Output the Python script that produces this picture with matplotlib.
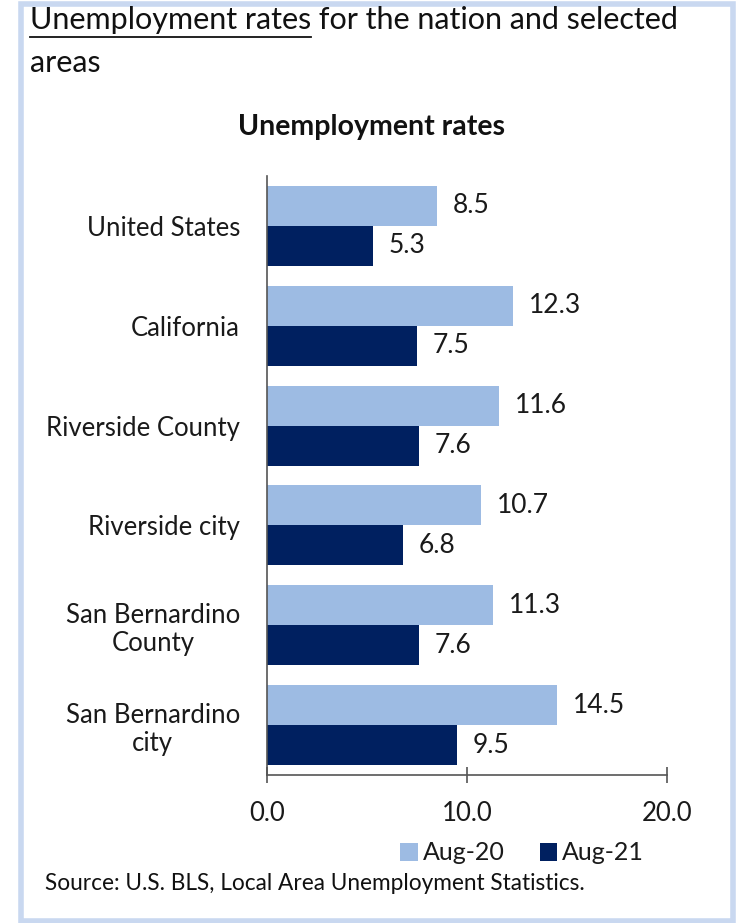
import matplotlib
matplotlib.use("Agg")
import matplotlib.pyplot as plt
import numpy as np
from matplotlib.patches import Rectangle

plt.rcParams['font.family'] = ['Lato', 'DejaVu Sans']

categories = ["United States", "California", "Riverside County", "Riverside city",
              "San Bernardino\nCounty", "San Bernardino\ncity"]
aug20 = [8.5, 12.3, 11.6, 10.7, 11.3, 14.5]
aug21 = [5.3, 7.5, 7.6, 6.8, 7.6, 9.5]
series_names = ["Aug-20", "Aug-21"]
xticks = [0.0, 10.0, 20.0]

c20 = "#9DBBE3"
c21 = "#002060"
txt = "#1a1a1a"
W, H = 738, 923
fig = plt.figure(figsize=(W / 100, H / 100), dpi=100)

# border
fig.patches.append(Rectangle((21 / W, 2 / H), (733 - 21) / W, (919 - 2) / H,
                             transform=fig.transFigure, fill=False,
                             edgecolor="#C9D8F0", linewidth=4))

ax = fig.add_axes([267 / W, 1 - 775 / H, 400 / W, (775 - 176) / H])
n = len(categories)
y = np.arange(n)
h = 0.4
b1 = ax.barh(y - h / 2, aug20, height=h, color=c20, label=series_names[0])
b2 = ax.barh(y + h / 2, aug21, height=h, color=c21, label=series_names[1])
ax.set_ylim(n - 0.5, -0.5)
ax.set_xlim(0, 20)

for bars, vals in ((b1, aug20), (b2, aug21)):
    for rect, v in zip(bars, vals):
        ax.annotate(f"{v:.1f}", (v, rect.get_y() + rect.get_height() / 2),
                    xytext=(16, 0), textcoords="offset pixels",
                    va="center", ha="left", fontsize=19, color=txt)

ax.set_yticks(y)
ax.set_yticklabels(categories, fontsize=18.5, color=txt, linespacing=1.15,
                   multialignment="center")
ax.tick_params(axis="y", length=0, pad=19.5)
ax.set_xticks(xticks)
ax.set_xticklabels([f"{t:.1f}" for t in xticks], fontsize=18.5, color=txt)
ax.tick_params(axis="x", direction="inout", length=12, width=1.2, color="#555555", pad=13)
for s in ("top", "right"):
    ax.spines[s].set_visible(False)
for s in ("left", "bottom"):
    ax.spines[s].set_color("#555555")
    ax.spines[s].set_linewidth(1.2)

# titles
t1 = fig.text(30 / W, 1 - 20 / H, "Unemployment rates", fontsize=22, va="center", ha="left", color="#111111")
fig.canvas.draw()
bb = t1.get_window_extent()
fig.text(bb.x1 / W, 1 - 20 / H, " for the nation and selected", fontsize=22, va="center", ha="left", color="#111111")
fig.add_artist(plt.Line2D([bb.x0 / W, bb.x1 / W], [1 - 37 / H, 1 - 37 / H],
                          transform=fig.transFigure, color="#111111", linewidth=1.3))
fig.text(30 / W, 1 - 63 / H, "areas", fontsize=22, va="center", ha="left", color="#111111")

fig.text(372 / W, 1 - 127 / H, "Unemployment rates", fontsize=20.5, fontweight="bold",
         ha="center", va="center", color="#111111")

leg = fig.legend(handles=[b1, b2], labels=series_names, loc="center",
                 bbox_to_anchor=(522 / W, 1 - 853 / H), ncol=2, frameon=False,
                 fontsize=18, handlelength=0.7, handleheight=0.7, handletextpad=0.2,
                 columnspacing=1.4, labelcolor=txt)

fig.text(45 / W, 1 - 884 / H, "Source: U.S. BLS, Local Area Unemployment Statistics.",
         fontsize=16.3, ha="left", va="center", color="#111111")

fig.savefig("out.png", dpi=100)
